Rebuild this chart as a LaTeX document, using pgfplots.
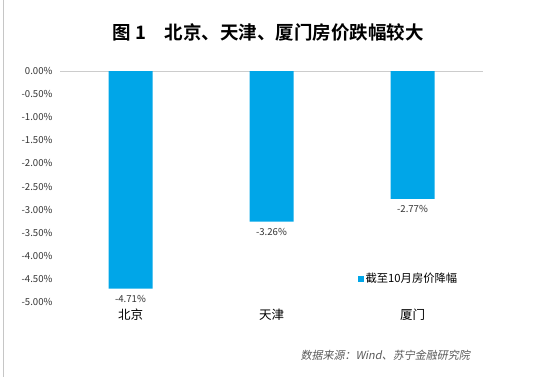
\documentclass[border=0pt]{standalone}
\usepackage{fontspec}
\setmainfont{Noto Sans CJK SC}[BoldFont=* Bold]
\newfontfamily\srcfont{Noto Sans CJK SC}[FakeSlant=0.2]
\usepackage{pgfplots}
\pgfplotsset{compat=1.18}
\definecolor{barblue}{RGB}{0,166,232}
\begin{document}
\begin{tikzpicture}
\useasboundingbox (0,0) rectangle (537pt,-377pt);
\draw[gray!45] (3pt,0) -- (3pt,-377pt);
\node[font=\fontsize{18.5}{20}\selectfont\bfseries] at (268pt,-32pt) {图 1\quad 北京、天津、厦门房价跌幅较大};
\begin{axis}[
  at={(60pt,-302pt)}, anchor=south west,
  scale only axis, width=423pt, height=231pt,
  xmin=-0.5, xmax=2.5, ymin=-5, ymax=0,
  axis line style={draw=none},
  major tick length=0pt,
  ytick={0,-0.5,...,-5},
  /pgf/number format/assume math mode=true,
  yticklabel={\pgfmathprintnumber[fixed,precision=2,fixed zerofill]{\tick}\%},
  yticklabel style={font=\fontsize{9.6}{10}\selectfont, text=black!80, xshift=-4pt},
  xtick=data, xticklabels={北京,天津,厦门},
  xticklabel style={font=\fontsize{12.5}{13}\selectfont, yshift=-3pt},
  ybar, bar width=44pt, bar shift=0pt,
  nodes near coords={\pgfmathprintnumber[fixed,precision=2,fixed zerofill]{\pgfplotspointmeta}\%},
  nodes near coords style={font=\fontsize{9.6}{10}\selectfont, text=black!80, yshift=-3pt},
  legend style={at={(rel axis cs:0.703,0.10)}, anchor=west, draw=none, fill=none, font=\fontsize{11.3}{12}\selectfont, inner sep=0pt},
  legend image code/.code={\fill[barblue] (0pt,-3pt) rectangle (6pt,3pt);},
  clip=false,
]
\draw[gray!40] (axis cs:-0.5,0) -- (axis cs:2.5,0);
\addplot[fill=barblue, draw=none] coordinates {(0,-4.71) (1,-3.26) (2,-2.77)};
\addlegendentry{截至10月房价降幅}
\end{axis}
\node[font=\fontsize{11}{12}\selectfont\srcfont, text=black!65, anchor=west] at (297pt,-355pt) {数据来源：Wind、苏宁金融研究院};
\end{tikzpicture}
\end{document}
